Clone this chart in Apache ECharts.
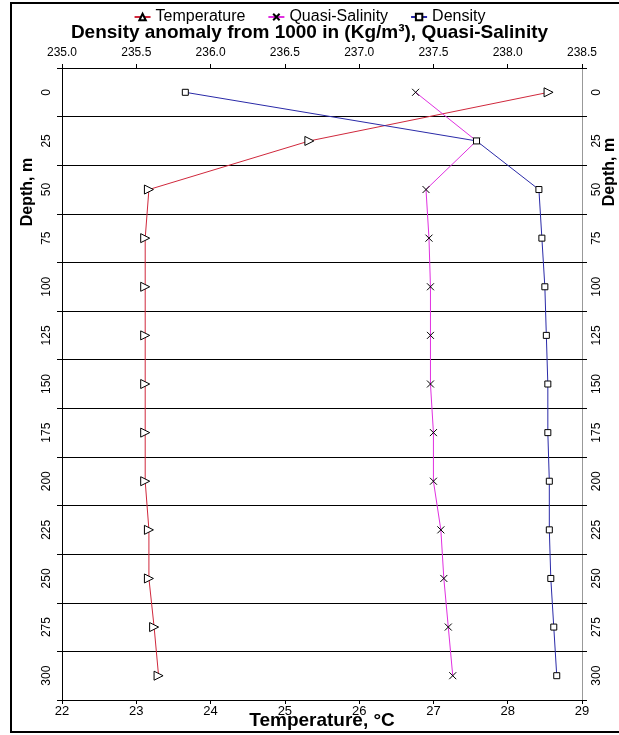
<!DOCTYPE html>
<html>
<head>
<meta charset="utf-8">
<script src="https://cdn.jsdelivr.net/npm/echarts@6/dist/echarts.min.js"></script>
<style>html,body{margin:0;padding:0;background:#fff}#c{width:619px;height:735px}</style>
</head>
<body>
<div id="c"></div>
<script>
var depths = ['0','25','50','75','100','125','150','175','200','225','250','275','300'];
var temperature = [28.55,25.33,23.17,23.12,23.12,23.12,23.12,23.12,23.12,23.17,23.17,23.24,23.30];
var quasiSalinity = [237.38,237.79,237.45,237.47,237.48,237.48,237.48,237.50,237.50,237.55,237.57,237.60,237.63];
var density = [235.83,237.79,238.21,238.23,238.25,238.26,238.27,238.27,238.28,238.28,238.29,238.31,238.33];
var tempTicks = {min:22, max:29, interval:1};
var topTicks = {min:235.0, max:238.5, interval:0.5};

function pairs(vals){ return vals.map(function(v,i){ return [v, depths[i]]; }); }
var FONT = 'Liberation Sans';
var chart = echarts.init(document.getElementById('c'), null, {renderer:'canvas'});
var yBase = {
  type:'category', data:depths, inverse:true, boundaryGap:true,
  axisLabel:{rotate:90, fontFamily:FONT, fontSize:12, color:'#000', margin:9},
  axisTick:{show:true, length:5, lineStyle:{color:'#000'}},
};
chart.setOption({
  animation:false,
  backgroundColor:'#fff',
  textStyle:{fontFamily:FONT},
  legend:{
    top:4, left:'center', itemGap:22, itemWidth:16, itemHeight:8, symbolRotate:0,
    textStyle:{fontFamily:FONT, fontSize:16, color:'#000'},
    data:['Temperature','Quasi-Salinity','Density']
  },
  title:{
    text:'Density anomaly from 1000 in (Kg/m³), Quasi-Salinity',
    left:'center', top:18,
    textStyle:{fontFamily:FONT, fontSize:19, fontWeight:'bold', color:'#000'}
  },
  grid:{left:62, right:37, top:68, bottom:35, containLabel:false, outerBoundsMode:'none'},
  xAxis:[
    {type:'value', position:'bottom', min:tempTicks.min, max:tempTicks.max, interval:tempTicks.interval,
     name:'Temperature, °C', nameLocation:'middle', nameGap:11, nameMoveOverlap:false,
     nameTextStyle:{fontFamily:FONT, fontSize:19, fontWeight:'bold', color:'#000'},
     axisLine:{lineStyle:{color:'#000'}},
     axisTick:{show:true, length:4, lineStyle:{color:'#000'}},
     axisLabel:{fontFamily:FONT, fontSize:13, color:'#000', margin:5},
     splitLine:{show:false}},
    {type:'value', position:'top', min:topTicks.min, max:topTicks.max, interval:topTicks.interval,
     axisLine:{lineStyle:{color:'#000'}},
     axisTick:{show:true, length:4, lineStyle:{color:'#000'}},
     axisLabel:{fontFamily:FONT, fontSize:12, color:'#000', margin:9,
       formatter:function(v){return v.toFixed(1);}},
     splitLine:{show:false}}
  ],
  yAxis:[
    Object.assign({}, yBase, {position:'left',
      axisLine:{show:true, lineStyle:{color:'#000'}},
      splitLine:{show:true, lineStyle:{color:'#000', width:1}}}),
    Object.assign({}, yBase, {position:'right',
      axisLine:{show:true, lineStyle:{color:'#999'}},
      axisTick:{show:true, length:5, lineStyle:{color:'#000'}},
      splitLine:{show:false}})
  ],
  series:[
    {name:'Temperature', type:'line', xAxisIndex:0, yAxisIndex:0, data:pairs(temperature),
     symbol:'triangle', symbolSize:9, symbolRotate:-90,
     lineStyle:{color:'#d0283c', width:1},
     itemStyle:{color:'#fff', borderColor:'#000', borderWidth:1}},
    {name:'Quasi-Salinity', type:'line', xAxisIndex:1, yAxisIndex:0, data:pairs(quasiSalinity),
     symbol:'path://M0,0L10,10M10,0L0,10', symbolSize:7,
     lineStyle:{color:'#e030e0', width:1},
     itemStyle:{color:'none', borderColor:'#000', borderWidth:1}},
    {name:'Density', type:'line', xAxisIndex:1, yAxisIndex:0, data:pairs(density),
     symbol:'rect', symbolSize:6,
     lineStyle:{color:'#2a2aa8', width:1},
     itemStyle:{color:'#fff', borderColor:'#000', borderWidth:1}}
  ],
  graphic:[
    {type:'rect', shape:{x:11, y:3, width:620, height:729}, style:{fill:'none', stroke:'#000', lineWidth:2}, silent:true},
    {type:'text', x:28, y:192, rotation:Math.PI/2,
     style:{text:'Depth, m', font:'bold 16px "Liberation Sans"', fill:'#000', textAlign:'center', textVerticalAlign:'middle'}},
    {type:'text', x:610, y:172, rotation:Math.PI/2,
     style:{text:'Depth, m', font:'bold 16px "Liberation Sans"', fill:'#000', textAlign:'center', textVerticalAlign:'middle'}}
  ]
});
</script>
</body>
</html>
